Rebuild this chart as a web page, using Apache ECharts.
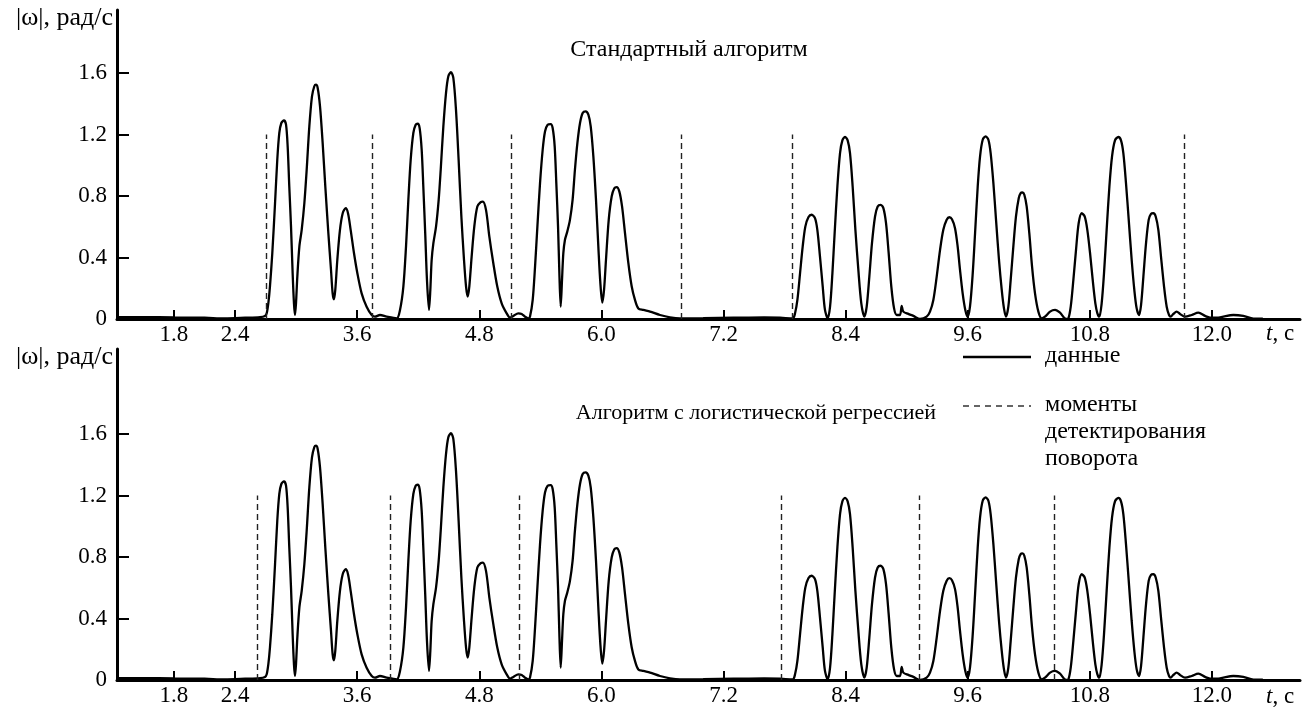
<!DOCTYPE html>
<html>
<head>
  <meta charset="utf-8" />
  <title>Стандартный алгоритм / логистическая регрессия</title>
  <script src="https://cdn.jsdelivr.net/npm/echarts@6/dist/echarts.min.js"></script>
  <style>
    html, body { margin: 0; padding: 0; background: #fff; }
  </style>
</head>
<body>
<div id="main" style="width: 1303px;height:710px;"></div>
<script type="text/javascript">
  // |ω| (рад/с) от времени t (с); одни и те же данные в обеих панелях
  var omega = [
    [1.24,0.012],[1.5,0.012],[1.8,0.010],[2.1,0.008],[2.3,0.004],[2.5,0.008],[2.645,0.012],[2.694,0.020],
    [2.711,0.037],[2.727,0.102],[2.743,0.211],[2.766,0.428],[2.793,0.753],[2.815,1.036],[2.835,1.210],
    [2.855,1.275],[2.881,1.292],[2.901,1.264],[2.917,1.123],[2.933,0.862],[2.950,0.601],[2.966,0.298],
    [2.979,0.102],[2.989,0.026],[2.999,0.102],[3.012,0.276],[3.032,0.471],[3.055,0.580],[3.081,0.753],
    [3.104,0.971],[3.130,1.253],[3.156,1.448],[3.179,1.514],[3.195,1.524],[3.212,1.503],[3.235,1.383],
    [3.261,1.144],[3.287,0.862],[3.317,0.558],[3.343,0.319],[3.359,0.167],[3.372,0.128],[3.385,0.189],
    [3.405,0.384],[3.431,0.580],[3.458,0.688],[3.487,0.721],[3.510,0.688],[3.536,0.580],[3.569,0.428],
    [3.602,0.298],[3.644,0.167],[3.693,0.080],[3.743,0.026],[3.775,0.015],[3.824,0.026],[3.890,0.015],
    [3.988,0.004],
    [4.021,0.059],[4.054,0.211],[4.080,0.471],[4.103,0.775],[4.126,1.036],[4.152,1.210],[4.175,1.264],
    [4.195,1.270],[4.214,1.242],[4.234,1.101],[4.250,0.862],[4.270,0.536],[4.286,0.254],[4.306,0.059],
    [4.319,0.189],[4.332,0.384],[4.349,0.493],[4.375,0.601],[4.401,0.775],[4.421,0.971],[4.447,1.253],
    [4.473,1.470],[4.496,1.579],[4.522,1.605],[4.545,1.568],[4.571,1.362],[4.597,1.036],[4.624,0.667],
    [4.650,0.384],[4.670,0.211],[4.686,0.146],[4.702,0.211],[4.725,0.406],[4.751,0.601],[4.781,0.732],
    [4.814,0.760],[4.835,0.764],[4.866,0.710],[4.899,0.536],[4.938,0.363],[4.977,0.211],[5.020,0.102],
    [5.069,0.037],[5.102,0.009],[5.135,0.020],[5.184,0.037],[5.217,0.033],[5.249,0.015],[5.282,0.004],
    [5.298,0.015],[5.325,0.124],[5.348,0.341],[5.371,0.601],[5.397,0.884],[5.423,1.101],[5.446,1.220],
    [5.472,1.264],[5.502,1.268],[5.521,1.242],[5.541,1.123],[5.557,0.884],[5.574,0.601],[5.587,0.298],
    [5.600,0.080],[5.613,0.254],[5.626,0.428],[5.642,0.515],[5.665,0.569],[5.691,0.645],[5.717,0.775],
    [5.740,0.971],[5.764,1.144],[5.790,1.275],[5.816,1.340],[5.845,1.351],[5.872,1.329],[5.895,1.253],
    [5.921,1.058],[5.947,0.775],[5.970,0.471],[5.990,0.232],[6.009,0.106],[6.026,0.189],[6.045,0.384],
    [6.072,0.645],[6.101,0.797],[6.127,0.851],[6.150,0.858],[6.176,0.830],[6.203,0.732],[6.232,0.558],
    [6.265,0.363],[6.298,0.211],[6.330,0.124],[6.363,0.069],[6.412,0.059],[6.478,0.048],[6.576,0.026],
    [6.674,0.011],[6.772,0.004],[7.0,0.005],[7.3,0.008],[7.6,0.010],[7.755,0.008],[7.880,0.004],
    [7.903,0.037],[7.926,0.124],[7.952,0.297],[7.978,0.471],[8.004,0.601],[8.034,0.662],[8.066,0.678],
    [8.099,0.656],[8.122,0.580],[8.148,0.406],[8.175,0.211],[8.197,0.059],[8.224,0.004],[8.247,0.080],
    [8.270,0.297],[8.292,0.558],[8.319,0.862],[8.345,1.079],[8.368,1.162],[8.394,1.184],[8.420,1.162],
    [8.443,1.079],[8.469,0.862],[8.496,0.580],[8.525,0.319],[8.554,0.102],[8.584,0.015],[8.607,0.080],
    [8.633,0.276],[8.659,0.493],[8.689,0.667],[8.715,0.732],[8.744,0.743],[8.771,0.721],[8.797,0.623],
    [8.823,0.428],[8.849,0.211],[8.876,0.069],[8.902,0.026],[8.934,0.026],[8.951,0.085],[8.967,0.048],
    [9.016,0.033],[9.066,0.020],[9.131,0.000],[9.196,0.015],[9.229,0.048],[9.262,0.124],[9.295,0.276],
    [9.328,0.450],[9.360,0.580],[9.393,0.645],[9.419,0.662],[9.445,0.649],[9.475,0.591],[9.501,0.471],
    [9.524,0.319],[9.550,0.167],[9.576,0.059],[9.599,0.015],[9.622,0.080],[9.649,0.297],[9.672,0.558],
    [9.698,0.862],[9.721,1.058],[9.747,1.166],[9.776,1.188],[9.803,1.166],[9.825,1.079],[9.852,0.884],
    [9.878,0.645],[9.907,0.384],[9.934,0.189],[9.956,0.069],[9.976,0.015],[9.999,0.080],[10.022,0.254],
    [10.048,0.471],[10.074,0.667],[10.101,0.786],[10.120,0.819],[10.137,0.823],[10.156,0.808],
    [10.179,0.732],[10.205,0.558],[10.232,0.341],[10.261,0.167],[10.294,0.048],[10.327,0.004],
    [10.359,0.015],[10.409,0.048],[10.458,0.059],[10.507,0.041],[10.566,0.000],[10.589,0.004],
    [10.612,0.080],[10.638,0.254],[10.664,0.450],[10.690,0.623],[10.720,0.688],[10.749,0.667],
    [10.775,0.580],[10.802,0.428],[10.828,0.254],[10.854,0.102],[10.874,0.037],[10.893,0.015],
    [10.916,0.102],[10.939,0.297],[10.965,0.580],[10.992,0.862],[11.018,1.058],[11.047,1.162],
    [11.080,1.184],[11.106,1.162],[11.129,1.079],[11.155,0.884],[11.182,0.645],[11.211,0.384],
    [11.237,0.189],[11.260,0.069],[11.283,0.026],[11.303,0.091],[11.326,0.276],[11.352,0.493],
    [11.378,0.645],[11.401,0.684],[11.424,0.688],[11.447,0.667],[11.473,0.580],[11.499,0.406],
    [11.529,0.211],[11.555,0.080],[11.578,0.026],[11.594,0.015],[11.621,0.033],[11.653,0.048],
    [11.686,0.033],[11.735,0.015],[11.801,0.026],[11.866,0.041],[11.932,0.020],[11.981,0.009],
    [12.079,0.011],[12.210,0.026],[12.308,0.020],[12.407,0.003],[12.50,0.002]
  ];
  // моменты детектирования поворота, с
  var marksStd = [2.704, 3.746, 5.119, 6.782, 7.88, 11.728];
  var marksLog = [2.622, 3.93, 5.19, 7.77, 9.12, 10.45];
  var markHeight = 1.2;

  var xTicks = [1.8, 2.4, 3.6, 4.8, 6.0, 7.2, 8.4, 9.6, 10.8, 12.0];
  var yTicks = [0, 0.4, 0.8, 1.2, 1.6];
  var xMin = 1.24, xMax = 12.865;
  var yMaxTop = 2.01, yMaxBottom = 2.153;

  var FONT = 'Liberation Serif';

  function xAxisOf(i) {
    return {
      gridIndex: i, type: 'value', min: xMin, max: xMax,
      axisLine: { lineStyle: { color: '#000', width: 3 } },
      axisTick: { inside: true, length: 9, customValues: xTicks, lineStyle: { color: '#000', width: 2 } },
      axisLabel: { customValues: xTicks, color: '#000', fontFamily: FONT, fontSize: 23, margin: 4,
        formatter: function (v) { return v.toFixed(1); } },
      splitLine: { show: false }
    };
  }
  function yAxisOf(i, max) {
    return {
      gridIndex: i, type: 'value', min: 0, max: max,
      axisLine: { show: true, lineStyle: { color: '#000', width: 3 } },
      axisTick: { show: true, inside: true, length: 12, customValues: yTicks, lineStyle: { color: '#000', width: 2 } },
      axisLabel: { customValues: yTicks, color: '#000', fontFamily: FONT, fontSize: 23, margin: 10,
        formatter: function (v) { return v === 0 ? '0' : v.toFixed(1); } },
      splitLine: { show: false }
    };
  }
  function curve(i, marks) {
    return {
      type: 'line', xAxisIndex: i, yAxisIndex: i, data: omega,
      symbol: 'none', smooth: 0.3,
      lineStyle: { color: '#000', width: 2.3 },
      markLine: {
        silent: true, symbol: ['none', 'none'], label: { show: false },
        lineStyle: { color: '#222', width: 1.4, type: [6, 4] },
        data: marks.map(function (t) { return [{ coord: [t, 0] }, { coord: [t, markHeight] }]; })
      }
    };
  }
  function txt(x, y, s, extra) {
    var st = { text: s, fill: '#000', font: '23px "Liberation Serif"', textVerticalAlign: 'middle' };
    for (var k in extra) st[k] = extra[k];
    return { type: 'text', x: x, y: y, style: st };
  }
  var italT = { rich: { i: { fontStyle: 'italic', fontFamily: FONT, fontSize: 23 } } };

  var chart = echarts.init(document.getElementById('main'));
  var option = {
    animation: false,
    backgroundColor: '#fff',
    grid: [
      { left: 117, top: 10, width: 1183, height: 309 },
      { left: 117, top: 349, width: 1183, height: 331 }
    ],
    xAxis: [xAxisOf(0), xAxisOf(1)],
    yAxis: [yAxisOf(0, yMaxTop), yAxisOf(1, yMaxBottom)],
    series: [curve(0, marksStd), curve(1, marksLog)],
    graphic: [
      txt(113, 18, '|ω|, рад/с', { textAlign: 'right', font: '26px "Liberation Serif"' }),
      txt(113, 357, '|ω|, рад/с', { textAlign: 'right', font: '26px "Liberation Serif"' }),
      txt(689, 50, 'Стандартный алгоритм', { textAlign: 'center', font: '24px "Liberation Serif"' }),
      txt(756, 413, 'Алгоритм с логистической регрессией', { textAlign: 'center', font: '22px "Liberation Serif"' }),
      txt(1266, 334, '{i|t}, с', italT),
      txt(1266, 697, '{i|t}, с', italT),
      // легенда
      { type: 'line', shape: { x1: 963, y1: 357, x2: 1031, y2: 357 }, style: { stroke: '#000', lineWidth: 2.3 } },
      txt(1045, 356, 'данные', { font: '24px "Liberation Serif"' }),
      { type: 'line', shape: { x1: 963, y1: 406, x2: 1031, y2: 406 }, style: { stroke: '#333', lineWidth: 1.3, lineDash: [6, 5] } },
      txt(1045, 391, 'моменты\nдетектирования\nповорота', { font: '24px "Liberation Serif"', lineHeight: 27, textVerticalAlign: 'top' })
    ]
  };
  chart.setOption(option);
</script>
</body>
</html>
